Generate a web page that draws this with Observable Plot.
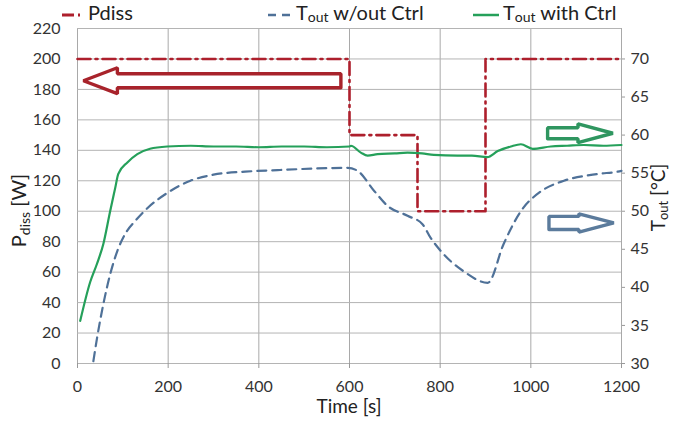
<!DOCTYPE html>
<html>
<head>
<meta charset="utf-8">
<script src="https://cdn.jsdelivr.net/npm/d3@7"></script>
<script src="https://cdn.jsdelivr.net/npm/@observablehq/plot@0.6"></script>
<style>
  html, body { margin: 0; padding: 0; background: #fff; }
  body { width: 673px; height: 424px; overflow: hidden; font-family: Lato, "Open Sans", sans-serif; }
  #wrap { position: relative; width: 673px; height: 424px; }
  #legend { position: absolute; left: 0; top: 0; height: 24px; width: 673px; font-size: 20px; color: #222; z-index: 2; }
  #legend .item { position: absolute; top: 0; line-height: 24px; white-space: nowrap; }
  #legend svg { vertical-align: middle; margin-right: 4px; }
  #legend sub { font-size: 14px; vertical-align: -2px; }
  #chart svg { display: block; }
</style>
</head>
<body>
<div id="wrap">
<div id="chart"></div>
<div id="legend"></div>
</div>
<script>
// ---- data ----
const seriesNames = ["Pdiss", "Tout w/out Ctrl", "Tout with Ctrl"];

// dissipated power step profile (W)
const pdissTime = [0, 600, 750, 900, 1200];
const pdissValue = [200, 150, 100, 200, 200];

// outlet temperature without control (°C)
const noCtrlTime = [35, 43, 57, 72, 88, 105, 127, 154, 198, 249, 300, 370, 441, 520, 596, 618, 654, 684, 728, 761, 779, 801, 852, 905, 940, 978, 1022, 1073, 1148, 1192, 1200];
const noCtrlTemp = [30.3, 33.3, 37.8, 41.7, 44.8, 47, 48.7, 50.4, 52.4, 54, 54.8, 55.2, 55.4, 55.6, 55.7, 55.3, 52.7, 50.7, 49.4, 48.3, 46.5, 44.8, 42.1, 40.6, 45.7, 50, 52.6, 54, 54.9, 55.2, 55.3];

// outlet temperature with control (°C)
const ctrlTime = [6, 28, 43, 57, 72, 83, 90, 110, 132, 160, 198, 250, 300, 350, 400, 450, 500, 550, 600, 603, 625, 640, 662, 700, 728, 760, 786, 838, 870, 904, 927, 956, 978, 1004, 1044, 1080, 1117, 1160, 1200];
const ctrlTemp = [35.6, 40.7, 43.1, 45.7, 50, 53, 54.9, 56.4, 57.5, 58.2, 58.5, 58.6, 58.5, 58.5, 58.4, 58.5, 58.5, 58.4, 58.5, 58.6, 57.7, 57.3, 57.5, 57.6, 57.7, 57.6, 57.4, 57.3, 57.3, 57.1, 57.9, 58.5, 58.8, 58.2, 58.5, 58.6, 58.7, 58.6, 58.7];

// axis ticks
const xTicks = [0, 200, 400, 600, 800, 1000, 1200];
const leftTicks = [0, 20, 40, 60, 80, 100, 120, 140, 160, 180, 200, 220];
const rightTicks = [30, 35, 40, 45, 50, 55, 60, 65, 70];

// block-arrow annotations (tail time, tip time, level in W)
const arrowTail = [581, 1037, 1040];
const arrowTip = [13, 1181, 1183];
const arrowLevel = [185.7, 151.2, 92.3];

// ---- mapping ----
const tempToW = t => (t - 30) * 5;   // right axis 30..74 °C == left 0..220 W
const colors = { pdiss: "#ad1f2c", noctrl: "#4f7198", ctrl: "#25a05a" };
const arrowColors = ["#a8232b", "#2f9660", "#5b7b9c"];
const arrowBodyHalf = [4.6, 3.6, 4.3];
const arrowHeadHalf = [8.5, 6.2, 6.0];
const arrowHeadLen = [75, 77, 77];

const pdiss = pdissTime.map((t, i) => ({ t, v: pdissValue[i] }));
const noCtrl = noCtrlTime.map((t, i) => ({ t, v: tempToW(noCtrlTemp[i]) }));
const ctrl = ctrlTime.map((t, i) => ({ t, v: tempToW(ctrlTemp[i]) }));

const arrowPolys = arrowTail.map((tail, i) => {
  const tip = arrowTip[i], y = arrowLevel[i];
  const dir = Math.sign(tip - tail);
  const base = tip - dir * arrowHeadLen[i];
  const b = arrowBodyHalf[i], h = arrowHeadHalf[i];
  const pts = [[tail, y - b], [base, y - b], [base, y - h], [tip, y], [base, y + h], [base, y + b], [tail, y + b], [tail, y - b]];
  return pts.map(([t, v]) => ({ t, v, k: i }));
}).flat();

// ---- legend ----
const legend = document.getElementById("legend");
legend.innerHTML = `
  <div class="item" style="left:62px"><svg width="22" height="10"><line x1="0" y1="5" x2="22" y2="5" stroke="${colors.pdiss}" stroke-width="3" stroke-dasharray="12,4,2,4"/></svg>Pdiss</div>
  <div class="item" style="left:268px"><svg width="24" height="10"><line x1="0" y1="5" x2="24" y2="5" stroke="${colors.noctrl}" stroke-width="2.5" stroke-dasharray="8,6"/></svg>T<sub>out</sub> w/out Ctrl</div>
  <div class="item" style="left:473px"><svg width="26" height="10"><line x1="0" y1="5" x2="26" y2="5" stroke="${colors.ctrl}" stroke-width="2.5"/></svg>T<sub>out</sub> with Ctrl</div>
`;

// ---- chart ----
const W = 673, H = 424;
const chart = Plot.plot({
  width: W,
  height: H,
  marginTop: 28,
  marginBottom: 61,
  marginLeft: 77,
  marginRight: 52,
  style: { fontFamily: "Lato, 'Open Sans', sans-serif", fontSize: "16px", color: "#333", background: "#fff" },
  x: { domain: [0, 1200] },
  y: { domain: [0, 220] },
  marks: [
    Plot.gridX(xTicks, { stroke: "#a9a9a9", strokeOpacity: 1, strokeWidth: 1 }),
    Plot.gridY(leftTicks, { stroke: "#b4b4b4", strokeOpacity: 1, strokeWidth: 1 }),
    Plot.axisX(xTicks, { tickSize: 5, tickPadding: 12, stroke: "#999", fontSize: 16, label: null, tickFormat: d => String(d) }),
    Plot.axisY(leftTicks, { anchor: "left", tickSize: 0, tickPadding: 17, fontSize: 16, label: null }),
    Plot.axisY(rightTicks.map(tempToW), { anchor: "right", tickSize: 3, tickPadding: 6, stroke: "#999", fontSize: 16, label: null, tickFormat: w => String(w / 5 + 30) }),
    Plot.line(arrowPolys, { x: "t", y: "v", z: "k", fill: "white", stroke: d => arrowColors[d.k], strokeWidth: 3.4, strokeLinejoin: "miter", curve: "linear" }),
    Plot.line(pdiss, { x: "t", y: "v", curve: "step-after", stroke: colors.pdiss, strokeWidth: 2.6, strokeDasharray: "13,5,2,5" }),
    Plot.line(noCtrl, { x: "t", y: "v", curve: "monotone-x", stroke: colors.noctrl, strokeWidth: 2.2, strokeDasharray: "9,6" }),
    Plot.line(ctrl, { x: "t", y: "v", curve: "monotone-x", stroke: colors.ctrl, strokeWidth: 2.2 })
  ]
});

// axis titles with subscripts
const svg = d3.select(chart);
const xs = chart.scale("x"), ys = chart.scale("y");
const yMid = (ys.apply(0) + ys.apply(220)) / 2;
svg.append("text")
  .attr("x", xs.apply(600)).attr("y", 413)
  .attr("text-anchor", "middle").attr("font-size", 19).attr("fill", "#222")
  .text("Time [s]");
const lt = svg.append("text")
  .attr("transform", `translate(26,${yMid + 15}) rotate(-90)`)
  .attr("text-anchor", "middle").attr("font-size", 20).attr("fill", "#222");
lt.append("tspan").text("P");
lt.append("tspan").attr("font-size", 14).attr("dy", 4).text("diss");
lt.append("tspan").attr("dy", -4).text(" [W]");
const rt = svg.append("text")
  .attr("transform", `translate(665,${yMid + 2}) rotate(-90)`)
  .attr("text-anchor", "middle").attr("font-size", 19).attr("fill", "#222");
rt.append("tspan").text("T");
rt.append("tspan").attr("font-size", 13).attr("dy", 3).text("out");
rt.append("tspan").attr("dy", -3).text(" [°C]");

document.getElementById("chart").appendChild(chart);
</script>
</body>
</html>
